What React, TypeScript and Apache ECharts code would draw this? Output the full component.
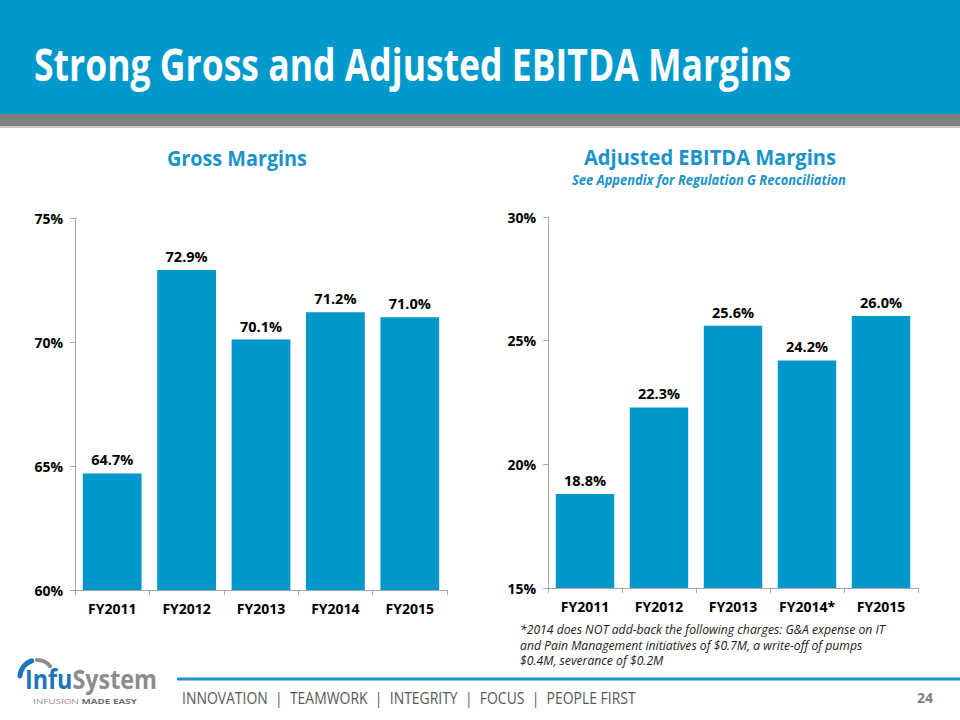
import React, { useEffect, useRef } from "react";
import * as echarts from "echarts";

const grossCategories = ["FY2011", "FY2012", "FY2013", "FY2014", "FY2015"];
const grossMargins = [64.7, 72.9, 70.1, 71.2, 71.0];
const ebitdaCategories = ["FY2011", "FY2012", "FY2013", "FY2014*", "FY2015"];
const ebitdaMargins = [18.8, 22.3, 25.6, 24.2, 26.0];

const titleText = "Strong Gross and Adjusted EBITDA Margins";
const grossTitle = "Gross Margins";
const ebitdaTitle = "Adjusted EBITDA Margins";
const ebitdaSubtitle = "See Appendix for Regulation G Reconciliation";
const footnoteLines = [
  "*2014 does NOT add-back the following charges: G&A expense on IT",
  "and Pain Management initiatives of $0.7M, a write-off of pumps",
  "$0.4M, severance of $0.2M",
];
const footerText = "INNOVATION  |  TEAMWORK  |  INTEGRITY  |  FOCUS  |  PEOPLE FIRST";
const pageNumber = "24";

const FONT = "'Open Sans', 'Noto Sans', sans-serif";
const BLUE = "#0097CB";
const TITLE_BLUE = "#1A93C9";

function measure(text: string, font: string): number {
  const c = document.createElement("canvas").getContext("2d");
  if (!c) return text.length * 8;
  c.font = font;
  return c.measureText(text).width;
}

export default function App() {
  const ref = useRef<HTMLDivElement>(null);

  useEffect(() => {
    if (!ref.current) return;
    const chart = echarts.init(ref.current, null, { renderer: "svg" });

    const fitText = (
      text: string,
      weight: string,
      style: string,
      size: number,
      targetW: number
    ) => {
      const w = measure(text, `${style} ${weight} ${size}px 'Open Sans'`);
      return targetW / w;
    };

    const titleScale = fitText(titleText, "bold", "normal", 44, 757);
    const grossScale = fitText(grossTitle, "bold", "normal", 21, 140);
    const ebitdaScale = fitText(ebitdaTitle, "bold", "normal", 21, 252);
    const subScale = fitText(ebitdaSubtitle, "bold", "italic", 13.5, 274);
    const footScale = fitText(footnoteLines[0], "normal", "italic", 13.5, 365);
    const footerScale = fitText(footerText, "normal", "normal", 16.5, 454);
    const logoScale = fitText("InfuSystem", "bold", "normal", 26, 132);
    const tagScale = fitText("INFUSION MADE EASY", "bold", "normal", 7.5, 107);

    const centerText = (
      text: string,
      cx: number,
      y: number,
      scale: number,
      size: number,
      weight: string,
      fontStyle: string,
      fill: string,
      totalW: number
    ) => ({
      type: "text",
      x: cx - totalW / 2,
      y,
      scaleX: scale,
      style: {
        text,
        fontFamily: FONT,
        fontSize: size,
        fontWeight: weight,
        fontStyle,
        fill,
        align: "left",
        verticalAlign: "middle",
      },
    });

    const axisLabelStyle = {
      fontFamily: FONT,
      fontSize: 14,
      fontWeight: "bold",
      color: "#000000",
    };
    const axisLineStyle = { lineStyle: { color: "#A6A6A6", width: 1 } };

    const option: any = {
      animation: false,
      backgroundColor: "#FFFFFF",
      grid: [
        { left: 75, top: 218, width: 372, height: 372 },
        { left: 548, top: 217, width: 370, height: 371 },
      ],
      xAxis: [
        {
          type: "category",
          gridIndex: 0,
          data: grossCategories,
          axisLine: { show: true, ...axisLineStyle },
          axisTick: { show: true, length: 5, interval: 0, ...axisLineStyle },
          axisLabel: { ...axisLabelStyle, margin: 11, interval: 0 },
        },
        {
          type: "category",
          gridIndex: 1,
          data: ebitdaCategories,
          axisLine: { show: true, ...axisLineStyle },
          axisTick: { show: true, length: 5, interval: 0, ...axisLineStyle },
          axisLabel: { ...axisLabelStyle, margin: 11, interval: 0 },
        },
      ],
      yAxis: [
        {
          type: "value",
          gridIndex: 0,
          min: 60,
          max: 75,
          interval: 5,
          axisLine: { show: true, ...axisLineStyle },
          axisTick: { show: true, length: 5, ...axisLineStyle },
          splitLine: { show: false },
          axisLabel: { ...axisLabelStyle, margin: 12, formatter: "{value}%" },
        },
        {
          type: "value",
          gridIndex: 1,
          min: 15,
          max: 30,
          interval: 5,
          axisLine: { show: true, ...axisLineStyle },
          axisTick: { show: true, length: 5, ...axisLineStyle },
          splitLine: { show: false },
          axisLabel: { ...axisLabelStyle, margin: 12, formatter: "{value}%" },
        },
      ],
      series: [
        {
          type: "bar",
          xAxisIndex: 0,
          yAxisIndex: 0,
          data: grossMargins,
          barCategoryGap: "21%",
          itemStyle: { color: BLUE },
          label: {
            show: true,
            position: "top",
            distance: 6,
            ...axisLabelStyle,
            fontSize: 14.5,
            formatter: (p: any) => p.value.toFixed(1) + "%",
          },
        },
        {
          type: "bar",
          xAxisIndex: 1,
          yAxisIndex: 1,
          data: ebitdaMargins,
          barCategoryGap: "21%",
          itemStyle: { color: BLUE },
          label: {
            show: true,
            position: "top",
            distance: 6,
            ...axisLabelStyle,
            fontSize: 14.5,
            formatter: (p: any) => p.value.toFixed(1) + "%",
          },
        },
      ],
      graphic: [
        // header
        { type: "rect", shape: { x: 0, y: 0, width: 960, height: 114 }, style: { fill: "#0099CC" } },
        { type: "rect", shape: { x: 0, y: 114, width: 960, height: 12 }, style: { fill: "#808080" } },
        { type: "rect", shape: { x: 0, y: 126, width: 960, height: 2 }, style: { fill: "#C8C8C8" } },
        {
          type: "text",
          x: 34,
          y: 64,
          scaleX: titleScale,
          style: {
            text: titleText,
            fontFamily: FONT,
            fontSize: 44,
            fontWeight: "bold",
            fill: "#FFFFFF",
            align: "left",
            verticalAlign: "middle",
          },
        },
        centerText(grossTitle, 237, 158, grossScale, 21, "bold", "normal", TITLE_BLUE, 140),
        centerText(ebitdaTitle, 710, 157, ebitdaScale, 21, "bold", "normal", TITLE_BLUE, 252),
        centerText(ebitdaSubtitle, 709, 180, subScale, 13.5, "bold", "italic", TITLE_BLUE, 274),
        // footnote
        ...footnoteLines.map((t, i) => ({
          type: "text",
          x: 520,
          y: 629 + i * 15.5,
          scaleX: footScale,
          style: {
            text: t,
            fontFamily: FONT,
            fontSize: 13.5,
            fontStyle: "italic",
            fill: "#1A1A1A",
            align: "left",
            verticalAlign: "middle",
          },
        })),
        // footer line and text
        { type: "line", shape: { x1: 177, y1: 679, x2: 960, y2: 679 }, style: { stroke: "#1F92C8", lineWidth: 3 } },
        {
          type: "text",
          x: 182,
          y: 698,
          scaleX: footerScale,
          style: {
            text: footerText,
            fontFamily: FONT,
            fontSize: 16.5,
            fill: "#595959",
            align: "left",
            verticalAlign: "middle",
          },
        },
        {
          type: "text",
          x: 925,
          y: 697,
          style: {
            text: pageNumber,
            fontFamily: FONT,
            fontSize: 14,
            fontWeight: "bold",
            fill: "#7F7F7F",
            align: "center",
            verticalAlign: "middle",
          },
        },
        // logo
        {
          type: "arc",
          shape: { cx: 37, cy: 677, r: 17, startAngle: Math.PI * 1.02, endAngle: Math.PI * 1.4 },
          style: { stroke: "#1B75BC", lineWidth: 5, fill: "none", lineCap: "round" },
        },
        {
          type: "arc",
          shape: { cx: 37, cy: 677, r: 17, startAngle: Math.PI * 1.5, endAngle: Math.PI * 1.78 },
          style: { stroke: "#8C8C8C", lineWidth: 4, fill: "none", lineCap: "round" },
        },
        {
          type: "text",
          x: 25,
          y: 679,
          scaleX: logoScale,
          style: {
            text: "{a|Infu}{b|System}",
            fontFamily: FONT,
            fontSize: 26,
            fontWeight: "bold",
            align: "left",
            verticalAlign: "middle",
            rich: {
              a: { fontFamily: FONT, fontSize: 26, fontWeight: "bold", fill: "#1B75BC" },
              b: { fontFamily: FONT, fontSize: 26, fontWeight: "bold", fill: "#8C8C8C" },
            },
          },
        },
        {
          type: "text",
          x: 33,
          y: 701,
          scaleX: tagScale,
          style: {
            text: "{a|INFUSION }{b|MADE EASY}",
            fontFamily: FONT,
            fontSize: 7.5,
            align: "left",
            verticalAlign: "middle",
            rich: {
              a: { fontFamily: FONT, fontSize: 7.5, fontWeight: "normal", fill: "#8C8C8C" },
              b: { fontFamily: FONT, fontSize: 7.5, fontWeight: "bold", fill: "#6E6E6E" },
            },
          },
        },
      ],
    };

    chart.setOption(option);
    return () => chart.dispose();
  }, []);

  return (
    <div
      ref={ref}
      style={{ position: "fixed", left: 0, top: 0, width: 960, height: 720 }}
    />
  );
}
